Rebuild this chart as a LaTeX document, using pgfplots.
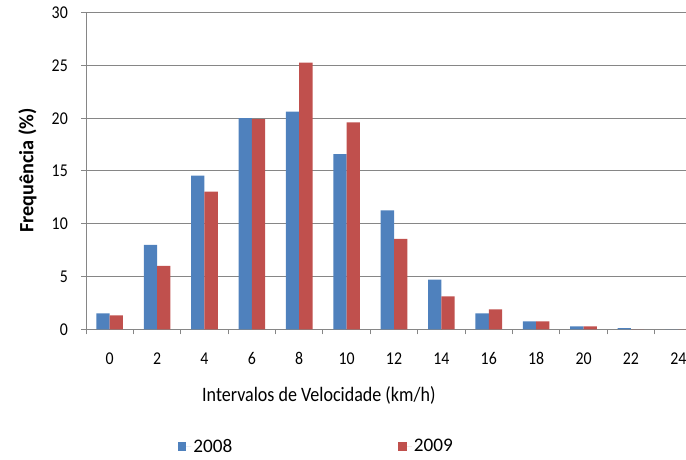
\documentclass[border=0pt]{standalone}
\usepackage{fontspec}
\setmainfont{Carlito}[FakeStretch=0.88]
\newfontfamily\ylabfont{Carlito}
\usepackage{pgfplots}
\pgfplotsset{compat=1.18}
\definecolor{b08}{HTML}{4F81BD}
\definecolor{r09}{HTML}{C0504D}
\definecolor{axgray}{HTML}{868686}
\begin{document}
\begin{tikzpicture}
\useasboundingbox (0,0) rectangle (686bp,460bp);
\begin{axis}[
  at={(86bp,130.7bp)}, anchor=south west,
  scale only axis, width=616bp, height=316.6bp,
  xmin=-0.5, xmax=12.5, ymin=0, ymax=30, enlargelimits=false,
  ybar=0pt, bar width=13.3bp,
  axis x line=bottom, axis y line=left,
  axis line style={draw=axgray, line width=1bp, -},
  ytick={0,5,...,30}, ymajorgrids, grid style={axgray, line width=1bp},
  xtick={-0.5,0.5,...,12.5}, xticklabels={},
  extra x ticks={0,1,2,3,4,5,6,7,8,9,10,11,12},
  extra x tick labels={0,2,4,6,8,10,12,14,16,18,20,22,24},
  extra x tick style={major tick length=0pt, grid=none,
     xticklabel style={anchor=north, inner sep=0pt, yshift=-23bp}},
  tick align=outside, major tick length=5bp,
  tick style={draw=axgray, line width=1bp},
  tick label style={font=\fontsize{18bp}{20bp}\selectfont, text=black},
  yticklabel style={anchor=east, inner sep=0pt, xshift=-13bp},
  /pgf/number format/assume math mode=true,
  xlabel={Intervalos de Velocidade (km/h)},
  xlabel style={at={(axis description cs:0.378,-0.2075)}, anchor=center,
     font=\fontsize{20.5bp}{22bp}\selectfont},
  ylabel={Frequência (\%)},
  ylabel style={at={(axis description cs:-0.095,0.5016)}, anchor=center,
     font=\ylabfont\bfseries\fontsize{20.3bp}{22bp}\selectfont},
  legend style={at={(axis description cs:0.149,-0.37)}, anchor=west,
     draw=none, fill=none, legend columns=2, inner sep=0pt,
     font=\ylabfont\fontsize{19.2bp}{22bp}\selectfont,
     /tikz/every even column/.append style={column sep=164bp}},
  legend image code/.code={\fill[#1] (0bp,-4.25bp) rectangle (8.5bp,4.25bp);
     \path (0bp,0bp) -- (13.5bp,0bp);},
]
\addplot[fill=b08, draw=none] coordinates {
 (0,1.52) (1,7.99) (2,14.56) (3,20.0) (4,20.62) (5,16.61) (6,11.27)
 (7,4.7) (8,1.52) (9,0.76) (10,0.28) (11,0.1) (12,0)};
\addlegendentry{2008}
\addplot[fill=r09, draw=none] coordinates {
 (0,1.33) (1,6.0) (2,13.04) (3,19.92) (4,25.26) (5,19.6) (6,8.56)
 (7,3.13) (8,1.89) (9,0.76) (10,0.28) (11,0) (12,0)};
\addlegendentry{2009}
\end{axis}
\end{tikzpicture}
\end{document}
